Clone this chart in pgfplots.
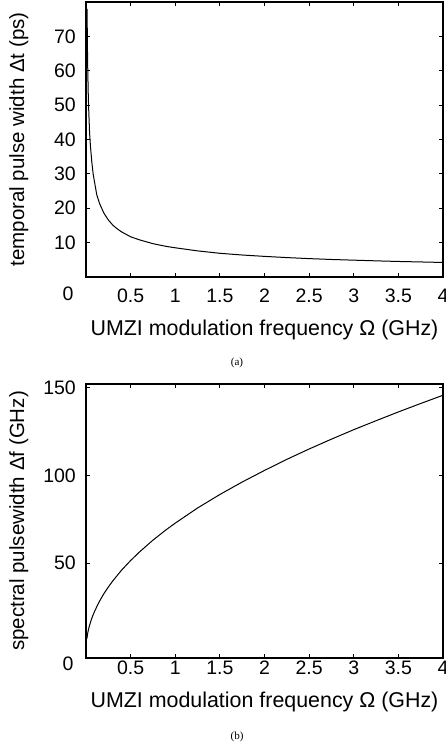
\documentclass[border=0pt]{standalone}
\usepackage{fontspec}
\setmainfont{Liberation Sans}
\newfontfamily\seriffont{Liberation Serif}
\usepackage{pgfplots}
\pgfplotsset{compat=1.18}
\pgfplotsset{myax/.style={
  scale only axis, width=357pt, xmin=0, xmax=4,
  xtick={0.5,1,1.5,2,2.5,3,3.5,4},
  tick align=inside, major tick length=4pt,
  axis line style={line width=1.1pt},
  every tick/.style={black, line width=0.8pt},
  tick label style={font=\fontsize{19.5}{20}\selectfont},
  xlabel style={font=\fontsize{21.4}{24}\selectfont},
  ylabel style={font=\fontsize{20.5}{24}\selectfont},
  /pgf/number format/assume math mode=true,
  yticklabel style={anchor=east, inner sep=0pt, xshift=-10pt},
  xlabel={UMZI modulation frequency Ω (GHz)},
  ylabel style={at={(axis description cs:-0.188,0.5)}, anchor=center},
}}
\begin{document}
\begin{tikzpicture}
\path[use as bounding box] (0,0) rectangle (446pt,-753pt);
% (a)
\begin{axis}[myax, at={(86pt,-277pt)}, anchor=south west, height=275pt,
  ymin=0, ymax=80, ytick={10,20,...,70},
  xticklabel style={anchor=base, inner sep=0pt, yshift=-25pt},
  xlabel style={at={(axis description cs:0.5,0)}, anchor=base, yshift=-58.5pt},
  ylabel={temporal pulse width Δt (ps)}]
\addplot[black, line width=1pt] coordinates {
(0.012,78) (0.016,67) (0.02,60) (0.025,53.5) (0.03,49) (0.04,42) (0.05,38) (0.065,33.5) (0.08,30) (0.1,27)
(0.12,24) (0.15,21.5) (0.2,18.6) (0.25,16.6) (0.3,15.1) (0.35,14) (0.4,13.1) (0.5,11.7)
(0.6,10.8) (0.75,9.7) (0.9,8.9) (1,8.5) (1.25,7.6) (1.5,6.9) (1.75,6.4) (2,6)
(2.25,5.65) (2.5,5.35) (2.75,5.1) (3,4.9) (3.25,4.7) (3.5,4.52) (3.75,4.38) (4,4.23)};
\end{axis}
\node[anchor=base, font=\fontsize{19.5}{20}\selectfont] at (68pt,-300pt) {0};
\node[font=\seriffont\fontsize{11}{12}\selectfont] at (237pt,-363pt) {(a)};
% (b)
\begin{axis}[myax, at={(86pt,-658pt)}, anchor=south west, height=274pt,
  ymin=-4, ymax=152, ytick={50,100,150},
  xticklabel style={anchor=base, inner sep=0pt, yshift=-16pt},
  xlabel style={at={(axis description cs:0.5,0)}, anchor=base, yshift=-49.5pt},
  ylabel={spectral pulsewidth Δf (GHz)}]
\addplot[black, line width=1pt] coordinates {
(0.01,7) (0.02,10.4) (0.03,12.7) (0.04,14.6) (0.06,17.9) (0.08,20.6) (0.1,23) (0.15,28.2)
(0.2,32.6) (0.25,36.4) (0.3,39.9) (0.4,46.1) (0.5,51.5) (0.6,56.4) (0.75,63.1) (0.9,69.1)
(1,72.8) (1.25,81.4) (1.5,89.1) (1.75,96.2) (2,102.8) (2.25,109.1) (2.5,115)
(2.75,120.6) (3,126) (3.25,131.1) (3.5,136.1) (3.75,140.9) (4,145.6)};
\end{axis}
\node[anchor=base, font=\fontsize{19.5}{20}\selectfont] at (68pt,-670pt) {0};
\node[font=\seriffont\fontsize{11}{12}\selectfont] at (237pt,-737pt) {(b)};
\end{tikzpicture}
\end{document}
